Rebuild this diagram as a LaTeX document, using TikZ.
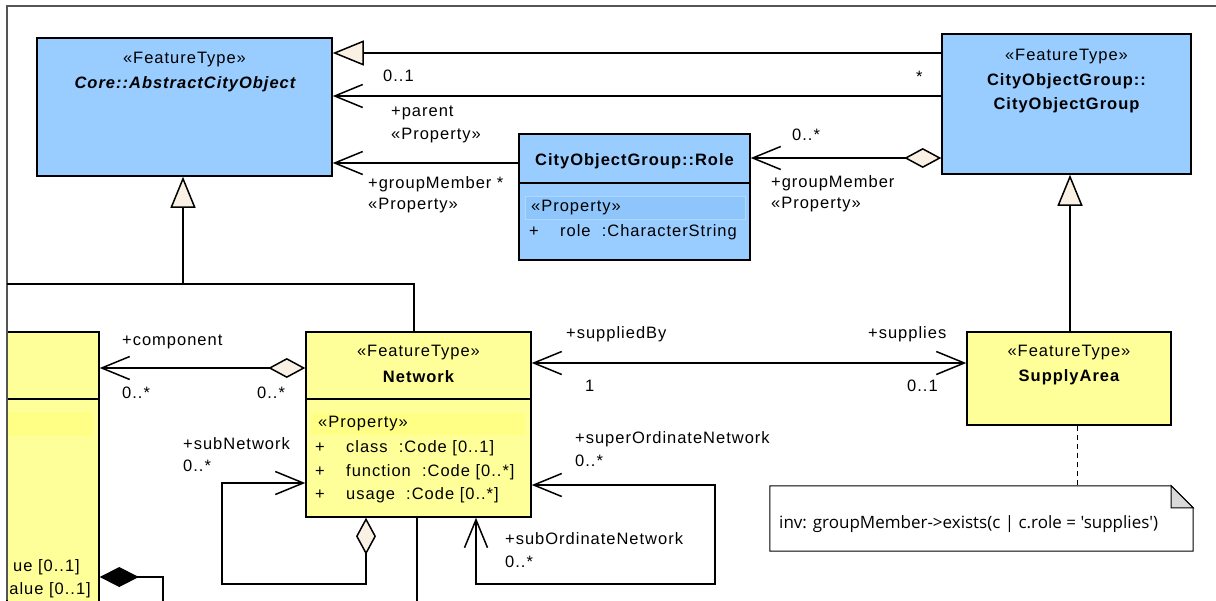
\documentclass[tikz,border=0pt]{standalone}
\usepackage{fontspec}
\setmainfont{Liberation Sans}[LetterSpace=6]
\newfontfamily\notefont{Open Sans}
\usetikzlibrary{arrows.meta,calc}
\definecolor{clsblue}{HTML}{99CCFF}
\definecolor{clsyellow}{HTML}{FFFF99}
\definecolor{bandblue}{HTML}{8EC6FB}
\definecolor{bandblueedge}{HTML}{B0D8FF}
\definecolor{bandyellow}{HTML}{FFFF85}
\definecolor{tipfill}{HTML}{FAF0E4}
\definecolor{framegray}{HTML}{555555}
\definecolor{foldgray}{HTML}{D9D9D9}
\tikzset{
  box/.style={draw=black, line width=1.5pt, inner sep=0pt},
  bluebox/.style={box, fill=clsblue},
  yellowbox/.style={box, fill=clsyellow},
  txt/.style={inner sep=0pt, font=\fontsize{16.5}{20}\selectfont},
  lab/.style={txt, anchor=west},
  bold/.style={txt, font=\fontsize{16.5}{20}\selectfont\bfseries},
  conn/.style={line width=1.5pt},
  gen/.style={conn, -{Triangle[length=31pt,width=25pt,fill=tipfill]}},
  nav/.style={conn, -{Straight Barb[length=28pt,width=23pt]}},
  aggnav/.style={conn, {Diamond[length=37pt,width=20pt,fill=tipfill]}-{Straight Barb[length=28pt,width=23pt]}},
  comp/.style={conn, {Diamond[length=39pt,width=20pt,fill=black]}-},
  both/.style={conn, {Straight Barb[length=28pt,width=23pt]}-{Straight Barb[length=28pt,width=23pt]}},
}
\begin{document}
\begin{tikzpicture}[x=1pt,y=-1pt]
\useasboundingbox[fill=white] (0,0) rectangle (1216,600);

% ---------- classes ----------
\node[bluebox, minimum width=295pt, minimum height=138pt] (aco) at (184.5,107) {};
\node[txt] (aco-s) at (184.5,60) {«FeatureType»};
\node[bold, font=\fontsize{16.5}{20}\selectfont\bfseries\itshape] (aco-n) at (185,84) {Core::AbstractCityObject};

\node[bluebox, minimum width=249pt, minimum height=140pt] (cog) at (1066.5,104) {};
\node[txt] (cog-s) at (1066.5,57) {«FeatureType»};
\node[bold] (cog-n1) at (1066.5,81) {CityObjectGroup::};
\node[bold] (cog-n2) at (1066.5,105) {CityObjectGroup};

\node[bluebox, minimum width=231pt, minimum height=126pt] (role) at (634.5,197) {};
\draw[line width=1.5pt] (role.west |- 0,183) -- (role.east |- 0,183);
\node[bold] (role-n) at (634.5,161) {CityObjectGroup::Role};
\fill[bandblue, draw=bandblueedge, line width=0.8pt] (525,196) rectangle (745,219);
\node[lab] (role-p) at (531,208) {«Property»};
\node[txt] (role-plus) at (534,232) {+};
\node[lab] (role-a) at (560,232) {role~~:CharacterString};

\node[yellowbox, minimum width=225pt, minimum height=185pt] (net) at (418.5,424.5) {};
\draw[line width=1.5pt] (net.west |- 0,399) -- (net.east |- 0,399);
\node[txt] (net-s) at (418.5,353) {«FeatureType»};
\node[bold] (net-n) at (418.5,377) {Network};
\fill[bandyellow] (311,413) rectangle (525,435);
\node[lab] (net-p) at (318,424) {«Property»};
\node[txt] (net-plus1) at (320,448) {+};
\node[txt] (net-plus2) at (320,472) {+};
\node[txt] (net-plus3) at (320,495) {+};
\node[lab] (net-a1) at (346,448) {class~~:Code [0..1]};
\node[lab] (net-a2) at (346,472) {function~~:Code [0..*]};
\node[lab] (net-a3) at (346,495) {usage~~:Code [0..*]};

\node[yellowbox, minimum width=204pt, minimum height=93pt] (sa) at (1069,378.5) {};
\node[txt] (sa-s) at (1069,353) {«FeatureType»};
\node[bold] (sa-n) at (1069,377) {SupplyArea};

\node[yellowbox, minimum width=92pt, minimum height=300pt] (left) at (53,482) {};
\draw[line width=1.5pt] (left.west |- 0,399) -- (left.east |- 0,399);
\fill[bandyellow] (7,412) rectangle (93,436);
\node[txt, anchor=east] (left-a1) at (80,567) {ue [0..1]};
\node[txt, anchor=east] (left-a2) at (91,590) {alue [0..1]};

% ---------- note ----------
\node[minimum width=423pt, minimum height=65pt, inner sep=0pt] (note) at (981.5,518.5) {};
\draw[line width=1pt, fill=white] (note.north west) -- ([xshift=-22pt]note.north east) -- ([yshift=-22pt]note.north east) -- (note.south east) -- (note.south west) -- cycle;
\draw[line width=1pt, fill=foldgray] ([xshift=-22pt]note.north east) -- ([xshift=-22pt,yshift=-22pt]note.north east) -- ([yshift=-22pt]note.north east) -- cycle;
\node[inner sep=0pt, anchor=west, font=\notefont\fontsize{17}{20}\selectfont] (note-t) at (779,524) {inv: groupMember->exists(c | c.role = 'supplies')};
\draw[conn, dashed, line width=1pt, dash pattern=on 5pt off 4pt] (sa.south -| 1077,0) -- (note.north -| 1077,0);

% ---------- frame ----------
\draw[framegray, line width=1.5pt] (1216,6) -- (7,6) -- (7,600);

% ---------- connectors ----------
\draw[gen] (cog.west |- 0,53) -- (aco.east |- 0,53);
\draw[nav] (cog.west |- 0,96) -- (aco.east |- 0,96);
\draw[nav] (role.west |- 0,163) -- (aco.east |- 0,163);
\draw[aggnav] (cog.west |- 0,158) -- (role.east |- 0,158);

\coordinate (gjoin) at (183,284);
\coordinate (gleft) at (7,284);
\draw[gen] (net.north -| 414,0) |- (gjoin) -- (aco.south -| gjoin);
\draw[conn] (gleft) -- (gjoin);
\draw[gen] (sa.north -| 1070,0) -- (cog.south -| 1070,0);

\draw[both] (net.east |- 0,363) -- (sa.west |- 0,363);
\draw[aggnav] (net.west |- 0,368) -- (left.east |- 0,368);

\coordinate (sn1) at (366,584);
\coordinate (sn2) at (222,483);
\draw[aggnav] (net.south -| sn1) -- (sn1) -| (sn2) -- (net.west |- sn2);

\coordinate (so1) at (715,485);
\coordinate (so2) at (476,584);
\draw[both] (net.east |- so1) -- (so1) |- (so2) -- (net.south -| so2);

\draw[conn] (net.south -| 417,0) -- (417,610);

\coordinate (cd1) at (163,577);
\draw[comp] (left.east |- cd1) -- (cd1) -- (163,610);

% ---------- labels ----------
\node[lab] (l-01) at (383,76) {0..1};
\node[lab] (l-star) at (916,77) {*};
\node[lab] (l-parent) at (391,113) {+parent};
\node[lab] (l-pprop) at (391,136) {«Property»};
\node[lab] (l-gm1) at (368,184) {+groupMember *};
\node[lab] (l-gm1p) at (368,206) {«Property»};
\node[lab] (l-0s) at (792,135) {0..*};
\node[lab] (l-gm2) at (771,183) {+groupMember};
\node[lab] (l-gm2p) at (771,205) {«Property»};
\node[lab] (l-comp) at (122,342) {+component};
\node[lab] (l-comp1) at (122,393) {0..*};
\node[lab] (l-comp2) at (257,393) {0..*};
\node[lab] (l-subn) at (183,444) {+subNetwork};
\node[lab] (l-subnm) at (183,466) {0..*};
\node[lab] (l-sby) at (566,334) {+suppliedBy};
\node[lab] (l-sby1) at (585,386) {1};
\node[lab] (l-sup) at (868,334) {+supplies};
\node[lab] (l-sup1) at (907,386) {0..1};
\node[lab] (l-super) at (575,439) {+superOrdinateNetwork};
\node[lab] (l-superm) at (575,461) {0..*};
\node[lab] (l-subo) at (505,539) {+subOrdinateNetwork};
\node[lab] (l-subom) at (505,562) {0..*};
\end{tikzpicture}
\end{document}
